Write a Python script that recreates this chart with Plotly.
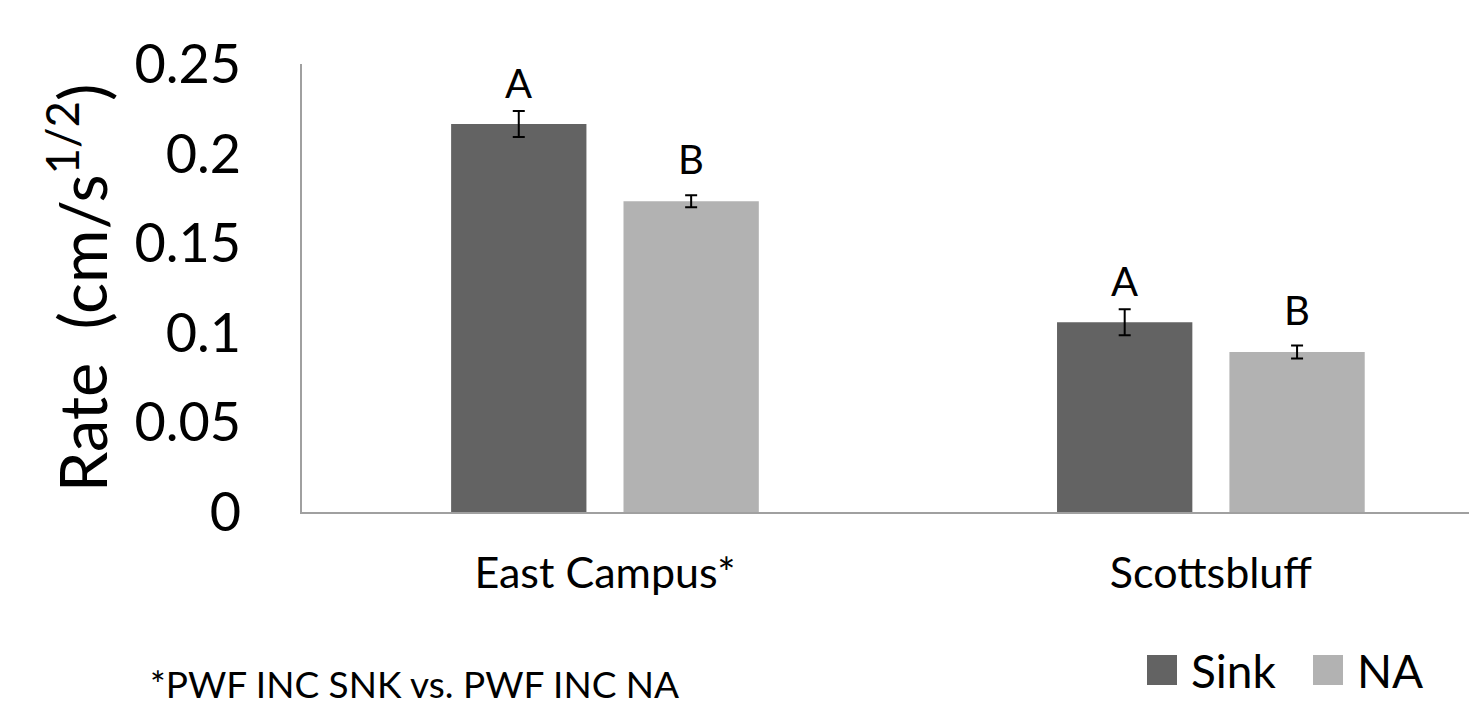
import plotly.graph_objects as go

categories = ["East Campus*", "Scottsbluff"]
series_names = ["Sink", "NA"]
sink_values = [0.2165, 0.1059]
na_values = [0.1734, 0.0893]
sink_errors = [0.0073, 0.0072]
na_errors = [0.0033, 0.0036]
sink_letters = ["A", "A"]
na_letters = ["B", "B"]
y_ticks = [0, 0.05, 0.1, 0.15, 0.2, 0.25]
y_tick_labels = ["0", "0.05", "0.1", "0.15", "0.2", "0.25"]
footnote = "*PWF INC SNK vs. PWF INC NA"

colors = ["#636363", "#b2b2b2"]
FONT = "Lato"

fig = go.Figure()
fig.add_trace(go.Bar(
    x=categories, y=sink_values, name=series_names[0],
    marker=dict(color=colors[0], line=dict(width=0)),
    error_y=dict(type="data", array=sink_errors, color="black", thickness=2, width=6),
    showlegend=False,
))
fig.add_trace(go.Bar(
    x=categories, y=na_values, name=series_names[1],
    marker=dict(color=colors[1], line=dict(width=0)),
    error_y=dict(type="data", array=na_errors, color="black", thickness=2, width=6),
    showlegend=False,
))

# significance letters
offset = 0.142
for i, cat in enumerate(categories):
    fig.add_annotation(x=i - offset, y=sink_values[i] + sink_errors[i], text=sink_letters[i],
                       showarrow=False, yanchor="middle", yshift=28,
                       font=dict(family=FONT, size=40, color="black"))
    fig.add_annotation(x=i + offset, y=na_values[i] + na_errors[i], text=na_letters[i],
                       showarrow=False, yanchor="middle", yshift=36,
                       font=dict(family=FONT, size=40, color="black"))

# custom legend (squares + labels), in pixel-derived paper coordinates
L, T, W, H = 302, 64, 1167, 448
def px(x):
    return (x - L) / W
def py(y):
    return 1 - (y - T) / H

legend_items = [(1147, series_names[0], colors[0]), (1313, series_names[1], colors[1])]
for x0, name, col in legend_items:
    fig.add_shape(type="rect", xref="paper", yref="paper",
                  x0=px(x0), x1=px(x0 + 30), y0=py(685), y1=py(655),
                  fillcolor=col, line=dict(width=0))
    fig.add_annotation(xref="paper", yref="paper", x=px(x0 + 42), y=py(670),
                       text=name, showarrow=False, xanchor="left", yanchor="middle",
                       font=dict(family=FONT, size=46, color="black"))

fig.add_annotation(xref="paper", yref="paper", x=px(148), y=py(683),
                   text=footnote, showarrow=False, xanchor="left", yanchor="middle",
                   font=dict(family=FONT, size=37, color="black"))

fig.update_layout(
    width=1469, height=705,
    margin=dict(l=L, r=0, t=T, b=705 - T - H, autoexpand=False),
    paper_bgcolor="white", plot_bgcolor="white",
    barmode="group", bargap=0.431, bargroupgap=0.215,
    font=dict(family=FONT, color="black"),
    xaxis=dict(
        type="category", range=[-0.5, 1.426],
        showline=True, linecolor="#a0a0a0", linewidth=2,
        showgrid=False, ticks="", zeroline=False,
        tickfont=dict(family=FONT, size=43, color="black"),
        ticklabelstandoff=22,
    ),
    yaxis=dict(
        range=[0, 0.25], tickvals=y_ticks, ticktext=y_tick_labels,
        showline=True, linecolor="#a0a0a0", linewidth=2,
        showgrid=False, ticks="", zeroline=False,
        tickfont=dict(family=FONT, size=54, color="black"),
        ticklabelstandoff=48,
        title=dict(text="Rate  (cm/s<sup>1/2</sup>)", standoff=6,
                   font=dict(family=FONT, size=65, color="black")),
    ),
)

fig.write_html(
    "out.html",
    config={"displayModeBar": False},
    post_script="document.body.style.margin='0';document.body.style.overflow='hidden';",
)
